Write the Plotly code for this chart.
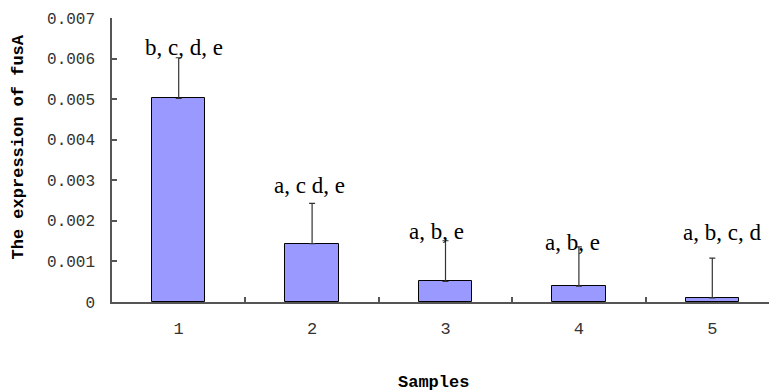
import plotly.graph_objects as go

# ---- data ----
samples = ["1", "2", "3", "4", "5"]
expression = [0.00502, 0.00144, 0.00051, 0.00039, 0.00010]
errors = [0.00100, 0.00099, 0.00100, 0.00097, 0.00098]
letters = ["b, c, d, e", "a, c d, e", "a, b, e", "a, b, e", "a, b, c, d"]
y_ticks = [0, 0.001, 0.002, 0.003, 0.004, 0.005, 0.006, 0.007]
y_tick_labels = ["0", "0.001", "0.002", "0.003", "0.004", "0.005", "0.006", "0.007"]

# ---- style ----
label_xshift = [5, -3, -9, -6, 10]
label_yshift = [10, 18, 9, 4, 26]
axis_color = "#555555"

fig = go.Figure()
fig.add_trace(go.Bar(
    x=list(range(1, len(samples) + 1)),
    y=expression,
    width=0.4,
    marker=dict(color="#9999FF", line=dict(color="#000000", width=1)),
    error_y=dict(type="data", array=errors, symmetric=False, arrayminus=[0] * len(errors),
                 color="#333333", thickness=1.2, width=3),
))

for i, (v, e, t) in enumerate(zip(expression, errors, letters)):
    fig.add_annotation(
        x=i + 1, y=v + e, text=t, showarrow=False,
        xanchor="center", yanchor="middle",
        xshift=label_xshift[i], yshift=label_yshift[i],
        font=dict(family="Liberation Serif", size=23, color="#000000"),
    )

# axis titles as annotations
fig.add_annotation(
    text="<b>The expression of fusA</b>", textangle=-90, showarrow=False,
    xref="paper", yref="paper", x=-0.1406, y=0.546, xanchor="center", yanchor="middle",
    font=dict(family="Liberation Mono", size=17, color="#000000"),
)
fig.add_annotation(
    text="<b>Samples</b>", showarrow=False,
    xref="paper", yref="paper", x=0.484, y=-0.282, xanchor="center", yanchor="middle",
    font=dict(family="Liberation Mono", size=17, color="#000000"),
)

fig.update_layout(
    width=769, height=383,
    margin=dict(l=104, r=0, t=10, b=89, autoexpand=False),
    paper_bgcolor="white", plot_bgcolor="white",
    showlegend=False,
    bargap=0,
)
fig.update_xaxes(
    range=[0.5, 5.485], automargin=False,
    tickmode="array", tickvals=list(range(1, len(samples) + 1)), ticktext=samples,
    showline=True, linecolor=axis_color, linewidth=1.5,
    ticks="", showgrid=False, zeroline=False,
    tickfont=dict(family="Liberation Mono", size=17, color="#333333"),
    ticklabelstandoff=10,
)
# boundary ticks on x axis (inside, pointing up)
fig.update_layout(xaxis2=dict(
    overlaying="x", matches="x", range=[0.5, 5.485], tickmode="array",
    tickvals=[1.5, 2.5, 3.5, 4.5], ticktext=["", "", "", ""], automargin=False,
    ticks="inside", ticklen=5, tickcolor=axis_color, tickwidth=1.5,
    showgrid=False, zeroline=False, showline=False, side="bottom",
))
fig.add_trace(go.Scatter(x=[1], y=[0], xaxis="x2", mode="markers",
                         marker=dict(opacity=0), hoverinfo="skip"))
fig.update_yaxes(
    range=[0, 0.007], automargin=False,
    tickmode="array", tickvals=y_ticks, ticktext=y_tick_labels,
    showline=True, linecolor=axis_color, linewidth=1.5,
    ticks="inside", ticklen=5, tickcolor=axis_color, tickwidth=1.5,
    showgrid=False, zeroline=False,
    tickfont=dict(family="Liberation Mono", size=16, color="#333333"),
    ticklabelstandoff=12,
)
fig.write_html("out.html")
